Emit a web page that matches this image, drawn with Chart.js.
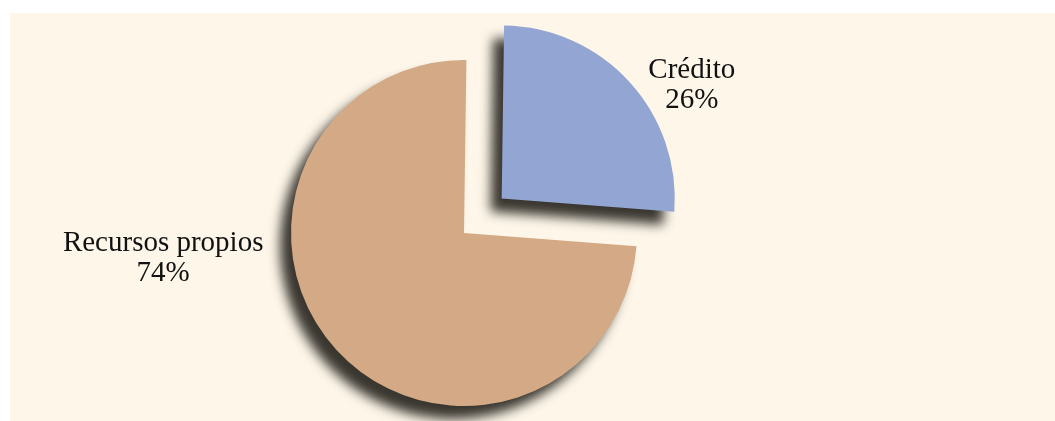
<!DOCTYPE html>
<html>
<head>
<meta charset="utf-8">
<script src="https://cdn.jsdelivr.net/npm/chart.js@4"></script>
<style>
  html, body { margin:0; padding:0; background:#fff; }
  #wrap { position:relative; width:1055px; height:421px; overflow:hidden; }
  #panel { position:absolute; left:10px; top:13px; right:0; bottom:0; background:#fdf6e9; }
  #chart { position:absolute; left:0; top:0; }
</style>
</head>
<body>
<div id="wrap">
  <div id="panel"></div>
  <canvas id="chart" width="1055" height="421"></canvas>
</div>
<script>
const categorias = ['Crédito', 'Recursos propios'];
const valores    = [26, 74];
const etiquetas  = ['26%', '74%'];
const colores    = ['#93a5d2', '#d3aa85'];

// sombra de las porciones (estilo Excel)
const sombra = {
  id: 'sombra',
  beforeDatasetsDraw(chart) {
    const ctx = chart.ctx;
    ctx.save();
    ctx.shadowColor   = 'rgb(58,55,48)';
    ctx.shadowBlur    = 12;
    ctx.shadowOffsetX = -11;
    ctx.shadowOffsetY = 13;
  },
  afterDatasetsDraw(chart) {
    chart.ctx.restore();
  }
};

// etiquetas fuera de la torta: angulo (grados) y distancia relativa al radio
const posEtiq = [ { ang: -33, dist: 1.57 }, { ang: 175.2, dist: 1.745 } ];

const rotulos = {
  id: 'rotulos',
  afterDatasetsDraw(chart) {
    const ctx  = chart.ctx;
    const arcs = chart.getDatasetMeta(0).data;
    ctx.save();
    ctx.font = '29px "Liberation Serif", "Times New Roman", serif';
    ctx.fillStyle = '#111';
    ctx.textAlign = 'center';
    ctx.textBaseline = 'middle';
    arcs.forEach((a, i) => {
      const p = posEtiq[i];
      const rad = p.ang * Math.PI / 180;
      const x = a.x + Math.cos(rad) * a.outerRadius * p.dist;
      const y = a.y + Math.sin(rad) * a.outerRadius * p.dist;
      ctx.fillText(categorias[i], x, y - 15);
      ctx.fillText(etiquetas[i], x, y + 15);
    });
    ctx.restore();
  }
};

new Chart(document.getElementById('chart'), {
  type: 'pie',
  data: {
    labels: categorias,
    datasets: [{
      data: valores,
      backgroundColor: colores,
      borderWidth: 0,
      offset: [204, 0],
      hoverOffset: 0,
    }]
  },
  options: {
    responsive: false,
    animation: false,
    rotation: 0.8,
    radius: 173,
    layout: { padding: { left: 0, right: 127, top: 45, bottom: 0 } },
    plugins: {
      legend: { display: false },
      tooltip: { enabled: false },
    }
  },
  plugins: [sombra, rotulos]
});
</script>
</body>
</html>
